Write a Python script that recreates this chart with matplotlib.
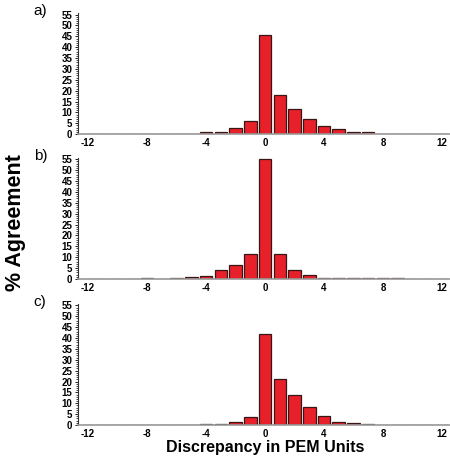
import matplotlib
matplotlib.use('Agg')
import matplotlib.pyplot as plt
from matplotlib.ticker import MultipleLocator
import numpy as np

plt.rcParams['font.family'] = ['Liberation Sans', 'DejaVu Sans']

# discrepancy bins (PEM units)
bins = np.arange(-12, 13)

# % agreement per bin
panel_a = [0, 0, 0, 0, 0, 0, 0.2, 0.2, 0.9, 0.8, 2.7, 6.0, 45.8, 17.9, 11.8, 6.9,
           3.8, 2.4, 1.2, 0.8, 0.3, 0.3, 0, 0.2, 0]
panel_b = [0, 0, 0, 0, 0.2, 0, 0.2, 0.9, 1.5, 4.2, 6.2, 11.3, 55.3, 11.3, 4.2, 2.0,
           0.6, 0.6, 0.6, 0.2, 0.2, 0.2, 0, 0, 0]
panel_c = [0, 0, 0, 0, 0, 0, 0.1, 0, 0.5, 0.5, 1.5, 3.6, 41.8, 21.3, 13.7, 8.5,
           4.1, 1.5, 0.9, 0.5, 0.2, 0.1, 0.1, 0, 0]
panels = [('a)', panel_a), ('b)', panel_b), ('c)', panel_c)]

xticks = [-12, -8, -4, 0, 4, 8, 12]

fig = plt.figure(figsize=(4.5, 4.58), dpi=100)
bottoms = [0.707, 0.391, 0.072]
height = 0.264

for (lab, vals), b in zip(panels, bottoms):
    ax = fig.add_axes([0.173, b, 0.827, height])
    ax.bar(bins, vals, width=0.85, color='#e8202a', edgecolor='#3a1515', linewidth=0.9)
    ax.set_xlim(-12.7, 12.55)
    ax.set_ylim(0, 55.6)
    ax.set_xticks(xticks)
    ax.set_xticklabels([str(t) for t in xticks], fontsize=7, fontweight='bold')
    ax.yaxis.set_major_locator(MultipleLocator(5))
    ax.yaxis.set_minor_locator(MultipleLocator(1))
    for t in ax.get_yticklabels():
        t.set_fontsize(7)
        t.set_fontweight('bold')
    ax.tick_params(axis='x', length=0, pad=3)
    ax.tick_params(axis='y', which='major', length=2.5, width=0.6, pad=1.5)
    ax.tick_params(axis='y', which='minor', length=1.5, width=0.5)
    ax.spines['top'].set_visible(False)
    ax.spines['right'].set_visible(False)
    ax.spines['left'].set_color('#333333')
    ax.spines['left'].set_linewidth(0.8)
    ax.spines['bottom'].set_color('#999999')
    ax.spines['bottom'].set_linewidth(1.2)
    fig.text(0.075, b + height + 0.005, lab, fontsize=11, ha='left', va='center')

fig.text(0.035, 0.515, '% Agreement', rotation=90, fontsize=15.5, fontweight='bold',
         ha='center', va='center')
fig.text(0.59, 0.023, 'Discrepancy in PEM Units', fontsize=11.5, fontweight='bold',
         ha='center', va='center')

fig.savefig('out.png', dpi=100)
